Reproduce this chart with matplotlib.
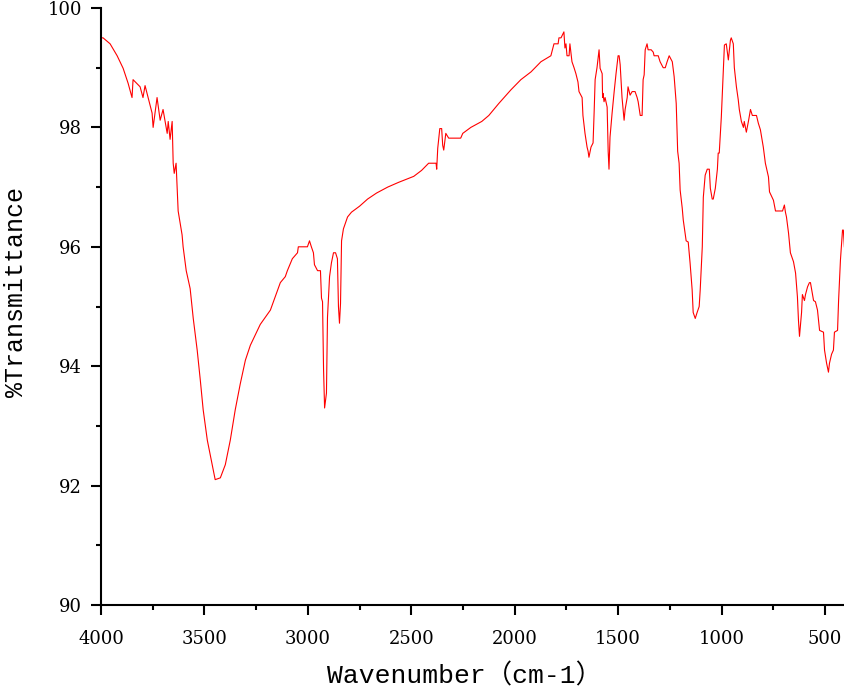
import matplotlib
matplotlib.use("Agg")
import matplotlib.pyplot as plt
from matplotlib.ticker import MultipleLocator

wavenumber = [4000, 3990, 3956, 3922, 3908, 3893, 3869, 3850, 3845, 3811, 3797, 3787, 3772, 3753, 3748,
              3729, 3714, 3700, 3680, 3675, 3666, 3656, 3651, 3646, 3637, 3627, 3608, 3603,
              3588, 3569, 3554, 3535, 3520, 3506, 3486, 3467, 3448, 3423, 3399, 3375, 3351, 3327,
              3302, 3278, 3230, 3181, 3133, 3109, 3099, 3075, 3050, 3046, 3002, 2992, 2983, 2973,
              2968, 2953, 2939, 2934, 2929, 2924, 2919, 2910, 2905, 2895, 2886, 2876, 2866, 2857,
              2852, 2847, 2842, 2837, 2828, 2818, 2808, 2789, 2750, 2711, 2668, 2614, 2561, 2488,
              2450, 2416, 2380, 2377, 2372, 2362, 2353, 2348, 2343, 2333, 2319, 2261, 2251, 2212,
              2159, 2125, 2101, 2077, 2018, 1970, 1921, 1873, 1825, 1810, 1790, 1786, 1776, 1762,
              1757, 1752, 1747, 1737, 1733, 1723, 1713, 1704, 1694, 1689, 1674, 1670, 1660, 1650,
              1645, 1641, 1631, 1621, 1616, 1611, 1602, 1592, 1587, 1577, 1575, 1573, 1568, 1563,
              1553, 1548, 1544, 1539, 1529, 1519, 1510, 1500, 1495, 1490, 1481, 1471, 1466, 1456,
              1452, 1442, 1432, 1418, 1408, 1403, 1393, 1384, 1379, 1374, 1369, 1360, 1355, 1340,
              1330, 1326, 1306, 1297, 1282, 1272, 1263, 1253, 1238, 1229, 1219, 1212, 1205, 1200,
              1190, 1185, 1171, 1161, 1152, 1142, 1137, 1127, 1118, 1108, 1103, 1093, 1088, 1079,
              1069, 1059, 1054, 1045, 1040, 1030, 1020, 1016, 1011, 1001, 991, 986, 977, 967, 957,
              953, 943, 938, 928, 919, 914, 904, 894, 890, 880, 870, 860, 851, 831, 822, 812, 798,
              788, 773, 768, 749, 739, 725, 705, 696, 691, 686, 676, 667, 652, 642, 633, 628, 623,
              613, 609, 599, 594, 584, 575, 570, 555, 546, 536, 526, 507, 502, 492, 483, 478, 468,
              459, 454, 439, 434, 425, 415, 411, 406]

transmittance = [99.5, 99.5, 99.4, 99.2, 99.1, 98.99, 98.74, 98.5, 98.8, 98.68, 98.5, 98.7, 98.5, 98.24, 98.0,
                 98.5, 98.12, 98.3, 97.9, 98.1, 97.8, 98.1, 97.4, 97.23, 97.4, 96.6, 96.2, 96.0,
                 95.6, 95.3, 94.8, 94.27, 93.77, 93.27, 92.76, 92.43, 92.1, 92.13, 92.35, 92.76, 93.27, 93.7,
                 94.1, 94.35, 94.7, 94.94, 95.4, 95.5, 95.6, 95.8, 95.9, 96.0, 96.0, 96.1, 96.0, 95.9,
                 95.7, 95.6, 95.6, 95.14, 95.08, 93.94, 93.3, 93.55, 94.82, 95.5, 95.73, 95.9, 95.9, 95.8,
                 95.0, 94.72, 95.05, 96.1, 96.3, 96.4, 96.5, 96.58, 96.68, 96.8, 96.9, 97.0, 97.08, 97.18,
                 97.28, 97.4, 97.4, 97.3, 97.65, 97.98, 97.98, 97.7, 97.62, 97.9, 97.82, 97.82, 97.9, 98.0,
                 98.1, 98.2, 98.3, 98.4, 98.63, 98.8, 98.93, 99.1, 99.2, 99.4, 99.4, 99.5, 99.5, 99.6,
                 99.33, 99.4, 99.2, 99.2, 99.4, 99.1, 99.0, 98.9, 98.76, 98.6, 98.5, 98.2, 97.9, 97.67,
                 97.6, 97.5, 97.67, 97.74, 98.24, 98.8, 99.0, 99.3, 98.99, 98.9, 98.5, 98.57, 98.43, 98.5,
                 98.34, 97.6, 97.3, 97.84, 98.24, 98.6, 98.9, 99.2, 99.2, 99.05, 98.5, 98.12, 98.3, 98.5,
                 98.68, 98.54, 98.6, 98.6, 98.5, 98.43, 98.2, 98.2, 98.8, 98.88, 99.3, 99.4, 99.3, 99.3,
                 99.26, 99.2, 99.2, 99.1, 99.0, 99.0, 99.1, 99.2, 99.1, 98.85, 98.4, 97.6, 97.4, 96.95,
                 96.65, 96.45, 96.1, 96.08, 95.73, 95.28, 94.9, 94.8, 94.9, 95.0, 95.28, 96.0, 96.83, 97.2,
                 97.3, 97.3, 96.98, 96.8, 96.8, 96.98, 97.3, 97.57, 97.57, 98.17, 99.0, 99.38, 99.4, 99.13, 99.46,
                 99.5, 99.4, 99.0, 98.68, 98.46, 98.3, 98.1, 98.0, 98.1, 97.92, 98.1, 98.3, 98.2, 98.2, 98.07, 97.96, 97.67,
                 97.4, 97.17, 96.92, 96.78, 96.6, 96.6, 96.6, 96.7, 96.58, 96.5, 96.23, 95.9, 95.75, 95.56, 95.16, 94.77, 94.5,
                 94.9, 95.2, 95.1, 95.2, 95.33, 95.4, 95.4, 95.1, 95.08, 94.94, 94.6, 94.57, 94.27, 94.05, 93.9, 94.05, 94.2,
                 94.27, 94.57, 94.6, 95.1, 95.78, 96.28, 96.28, 96.0]

x_ticks = [4000, 3500, 3000, 2500, 2000, 1500, 1000, 500]
y_ticks = [90, 92, 94, 96, 98, 100]

fig = plt.figure(figsize=(8.45, 6.9), dpi=100)
ax = fig.add_axes([101/845, 85/690, 744/845, 597/690])

ax.plot(wavenumber, transmittance, color="#ff0000", linewidth=0.8)

ax.set_xlim(4000, 403)
ax.set_ylim(90, 100)
ax.set_xticks(x_ticks)
ax.set_yticks(y_ticks)
ax.xaxis.set_minor_locator(MultipleLocator(250))
ax.yaxis.set_minor_locator(MultipleLocator(1))

for s in ["top", "right"]:
    ax.spines[s].set_visible(False)
for s in ["left", "bottom"]:
    ax.spines[s].set_linewidth(1.5)

ax.tick_params(which="major", direction="out", length=7.2, width=1.5, labelsize=13)
ax.tick_params(which="minor", direction="out", length=3.8, width=1.5)
ax.tick_params(axis="y", which="major", pad=6.5)
ax.tick_params(axis="x", which="major", pad=11)
for lab in ax.get_xticklabels() + ax.get_yticklabels():
    lab.set_family("DejaVu Serif")

ax.set_xlabel("Wavenumber（cm-1）", family=["Liberation Mono", "Noto Sans CJK SC"], fontsize=19)
ax.xaxis.set_label_coords(0.489, -0.097)
ax.set_ylabel("%Transmittance", family=["Liberation Mono", "DejaVu Sans"], fontsize=18)
ax.yaxis.set_label_coords(-0.098, 0.524)

fig.savefig("out.png", dpi=100)
